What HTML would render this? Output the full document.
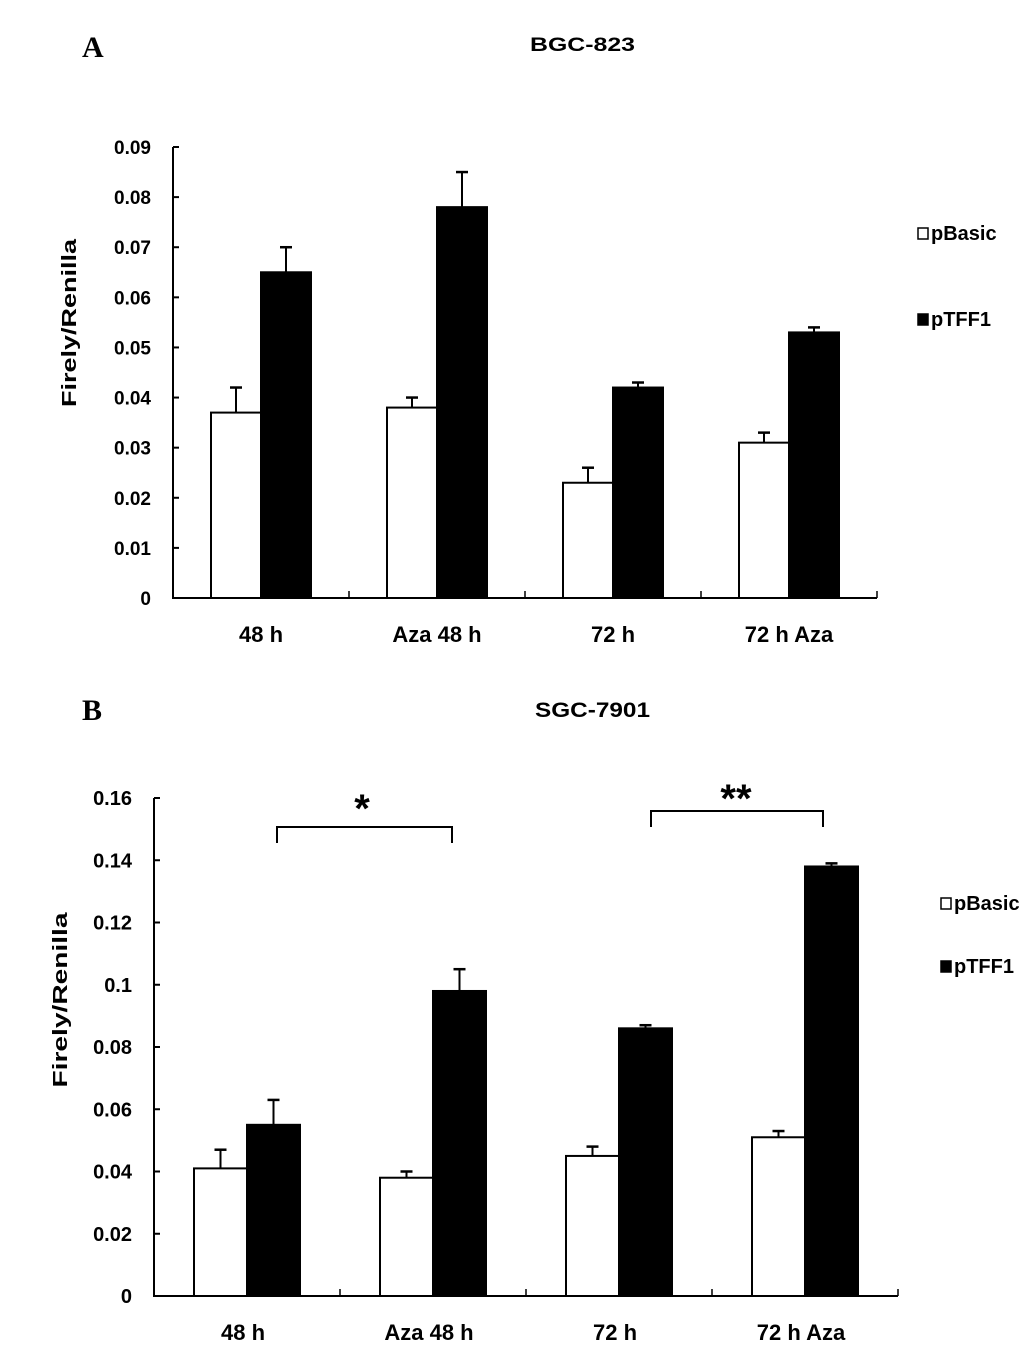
<!DOCTYPE html>
<html><head><meta charset="utf-8"><style>
body{margin:0;background:#fff;}
svg{display:block;font-family:"Liberation Sans",Arial,sans-serif;}
</style></head><body>
<svg id="c" width="1033" height="1353" viewBox="0 0 1033 1353">
<text x="82" y="57" font-family="Liberation Serif" font-weight="bold" font-size="30">A</text>
<text x="530" y="51" textLength="105" lengthAdjust="spacingAndGlyphs" font-weight="bold" font-size="19">BGC-823</text>
<text x="82" y="720" font-family="Liberation Serif" font-weight="bold" font-size="30">B</text>
<text x="535" y="717" textLength="115" lengthAdjust="spacingAndGlyphs" font-weight="bold" font-size="21">SGC-7901</text>
</svg>
<script>
const categories=["48 h","Aza 48 h","72 h","72 h Aza"];
const categoriesB=["48 h","Aza 48 h","72 h","72 h Aza"];
const aBasic=[0.037,0.038,0.023,0.031];
const aBasicErr=[0.005,0.002,0.003,0.002];
const aTFF1=[0.065,0.078,0.042,0.053];
const aTFF1Err=[0.005,0.007,0.001,0.001];
const aTicks=["0","0.01","0.02","0.03","0.04","0.05","0.06","0.07","0.08","0.09"];
const bBasic=[0.041,0.038,0.045,0.051];
const bBasicErr=[0.006,0.002,0.003,0.002];
const bTFF1=[0.055,0.098,0.086,0.138];
const bTFF1Err=[0.008,0.007,0.001,0.001];
const bTicks=["0","0.02","0.04","0.06","0.08","0.1","0.12","0.14","0.16"];
const seriesNames=["pBasic","pTFF1"];

const svg=document.getElementById('c');
const NS='http://www.w3.org/2000/svg';
function mk(tag,at,txt){const e=document.createElementNS(NS,tag);for(const k in at)e.setAttribute(k,at[k]);if(txt!=null)e.textContent=txt;svg.appendChild(e);return e;}

function chart(p,cats,s1,e1,s2,e2,ticks,pref){
  const tmax=parseFloat(ticks[ticks.length-1]);
  const y=v=>p.y0-(v/tmax)*(p.y0-p.yTop);
  const gx=i=>p.x0+i*p.gw;
  ticks.forEach((t,i)=>{const v=parseFloat(t);const yy=y(v);
    let l=mk('line',{x1:p.x0,x2:p.x0+6,y1:yy,y2:yy,stroke:'#000','stroke-width':2});
    
    
    let tx=mk('text',{x:p.x0-22,y:yy+7,'text-anchor':'end','font-weight':'bold','font-size':p.fs},t);
    
    
  });
  cats.forEach((c,i)=>{
    const series=[[s1,e1,'#fff'],[s2,e2,'#000']];
    series.forEach((s,k)=>{
      const bx=gx(i)+p.off+k*p.bw;const v=s[0][i];const top=s[0][i]+s[1][i];
      let el=mk('line',{x1:bx+p.bw/2,x2:bx+p.bw/2,y1:y(v),y2:y(top),stroke:'#000','stroke-width':2});
      
      
      let ec=mk('line',{x1:bx+p.bw/2-6,x2:bx+p.bw/2+6,y1:y(top),y2:y(top),stroke:'#000','stroke-width':2.5});
      
      
      let r=mk('rect',{x:bx,y:y(v),width:p.bw,height:p.y0-y(v),fill:s[2],stroke:'#000','stroke-width':2});
      
      
    });
    let t=mk('text',{x:gx(i)+p.gw/2-(pref==='a'?0:4),y:p.y0+44,'text-anchor':'middle','font-weight':'bold','font-size':22},c);
    
    
    let xt=mk('line',{x1:gx(i+1),x2:gx(i+1),y1:p.y0,y2:p.y0-7,stroke:'#000','stroke-width':1.5});
    
    
  });
  let ax=mk('path',{d:`M${p.x0} ${p.yTop}V${p.y0}H${p.x0+4*p.gw}`,fill:'none',stroke:'#000','stroke-width':2});
  
  
  let yt=mk('text',{x:0,y:0,transform:`translate(${p.ytx},${p.ytc}) rotate(-90)`,'text-anchor':'middle','font-weight':'bold','font-size':20,textLength:p.ytl,lengthAdjust:'spacingAndGlyphs'},'Firely/Renilla');
  
  
  seriesNames.forEach((n,k)=>{
    const ly=p.leg[1]+k*p.legGap;
    let sq=mk('rect',{x:p.leg[0],y:ly-12,width:10,height:11,fill:k?'#000':'#fff',stroke:'#000','stroke-width':1.5});
    
    
    let lt=mk('text',{x:p.leg[0]+13,y:ly,'font-weight':'bold','font-size':20},n);
    
    
  });
}
chart({x0:173,y0:598,yTop:147,gw:176,off:38,bw:50,fs:19,ytx:76,ytc:323,ytl:168,leg:[918,240],legGap:86},categories,aBasic,aBasicErr,aTFF1,aTFF1Err,aTicks,'a');
chart({x0:154,y0:1296,yTop:798,gw:186,off:40,bw:53,fs:20,ytx:67,ytc:1000,ytl:175,leg:[941,910],legGap:63},categoriesB,bBasic,bBasicErr,bTFF1,bTFF1Err,bTicks,'b');

function bracket(x1,x2,yy,label,tx,ty){
  let b=mk('path',{d:`M${x1} ${yy+16}V${yy}H${x2}V${yy+16}`,fill:'none',stroke:'#000','stroke-width':2});
  
  
  let t=mk('text',{x:tx,y:ty,'text-anchor':'middle','font-weight':'bold','font-size':40},label);
  
  
}
bracket(277,452,827,'*',362,822);
bracket(651,823,811,'**',736,812);
</script>
</body></html>
